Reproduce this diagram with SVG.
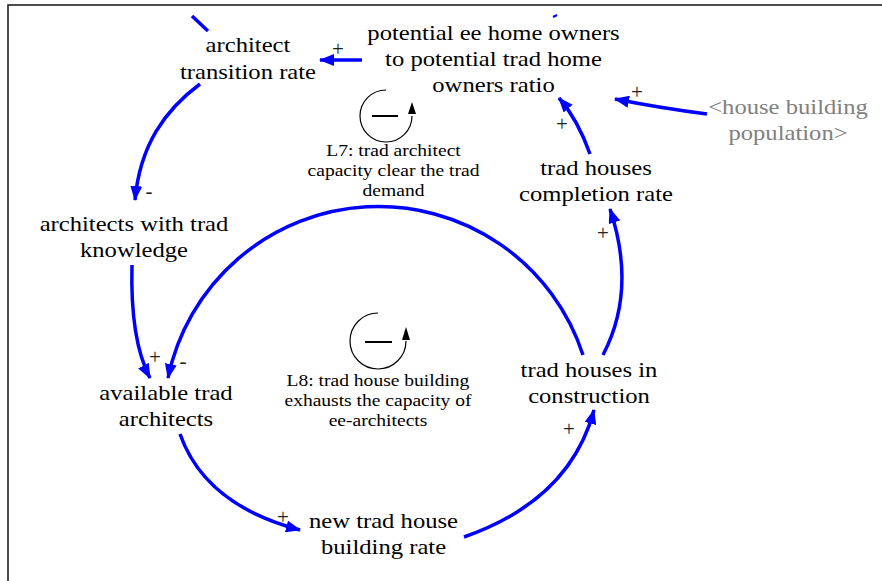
<svg xmlns="http://www.w3.org/2000/svg" width="882" height="581" viewBox="0 0 882 581">
<style>
.c{fill:none;stroke:#0000FF;stroke-width:3.5;marker-end:url(#ah)}
.stub{fill:none;stroke:#0000FF;stroke-width:3.5}
.loop{fill:none;stroke:#000;stroke-width:1.2}
</style>
<defs>
<marker id="ah" viewBox="0 0 15 12" refX="14" refY="6" markerWidth="15" markerHeight="12" markerUnits="userSpaceOnUse" orient="auto">
<path d="M0,0 L15,6 L0,12 z" fill="#0000FF"/>
</marker>
</defs>
<rect x="8" y="5" width="900" height="600" fill="#fff" stroke="#222" stroke-width="1.6"/>

<g id="connectors">
<line class="stub" x1="192" y1="16" x2="208" y2="31"/>
<line x1="553" y1="17" x2="557" y2="15" stroke="#0000FF" stroke-width="2"/>
<path class="c" d="M362,60 L320,60"/>
<path class="c" d="M200,84 C165,110 140,145 135,200"/>
<path class="c" d="M132,265 Q130,340 150,378"/>
<path class="c" d="M583,355 A215,215 0 0 0 168,378"/>
<path class="c" d="M180,434 Q205,505 300,530"/>
<path class="c" d="M464,537 Q570,500 594,410"/>
<path class="c" d="M603,355 Q637,290 610,209"/>
<path class="c" d="M590,154 Q578,120 559,98"/>
<path class="c" d="M707,114 Q660,108 615,99"/>
<g font-family="Liberation Serif" font-size="21" fill="#222" text-anchor="middle">
<text style="font-family:'Liberation Serif',serif" x="338" y="56">+</text>
<text style="font-family:'Liberation Serif',serif" x="149" y="198">-</text>
<text style="font-family:'Liberation Serif',serif" x="562" y="131">+</text>
<text style="font-family:'Liberation Serif',serif" x="637" y="99">+</text>
<text style="font-family:'Liberation Serif',serif" x="603" y="240">+</text>
<text style="font-family:'Liberation Serif',serif" x="155" y="364">+</text>
<text style="font-family:'Liberation Serif',serif" x="183" y="368">-</text>
<text style="font-family:'Liberation Serif',serif" x="283" y="524">+</text>
<text style="font-family:'Liberation Serif',serif" x="569" y="436">+</text>
</g>
</g>

<g font-family="Liberation Serif" font-size="22" fill="#000" text-anchor="middle">
<g id="architect_transition_rate" transform="translate(248 0) scale(1.12 1)">
<text style="font-family:'Liberation Serif',serif" x="0" y="52">architect</text>
<text style="font-family:'Liberation Serif',serif" x="0" y="79">transition rate</text>
</g>
<g id="ratio" transform="translate(493.5 0) scale(1.12 1)">
<text style="font-family:'Liberation Serif',serif" x="0" y="40">potential ee home owners</text>
<text style="font-family:'Liberation Serif',serif" x="0" y="66">to potential trad home</text>
<text style="font-family:'Liberation Serif',serif" x="0" y="92">owners ratio</text>
</g>
<g id="house_building_population" transform="translate(788 0) scale(1.12 1)" fill="#808080">
<text style="font-family:'Liberation Serif',serif" x="0" y="114">&lt;house building</text>
<text style="font-family:'Liberation Serif',serif" x="0" y="140">population&gt;</text>
</g>
<g id="trad_houses_completion_rate" transform="translate(596 0) scale(1.12 1)">
<text style="font-family:'Liberation Serif',serif" x="0" y="175">trad houses</text>
<text style="font-family:'Liberation Serif',serif" x="0" y="201">completion rate</text>
</g>
<g id="architects_with_trad_knowledge" transform="translate(134 0) scale(1.12 1)">
<text style="font-family:'Liberation Serif',serif" x="0" y="231">architects with trad</text>
<text style="font-family:'Liberation Serif',serif" x="0" y="257">knowledge</text>
</g>
<g id="available_trad_architects" transform="translate(166 0) scale(1.12 1)">
<text style="font-family:'Liberation Serif',serif" x="0" y="400">available trad</text>
<text style="font-family:'Liberation Serif',serif" x="0" y="426">architects</text>
</g>
<g id="trad_houses_in_construction" transform="translate(589 0) scale(1.12 1)">
<text style="font-family:'Liberation Serif',serif" x="0" y="377">trad houses in</text>
<text style="font-family:'Liberation Serif',serif" x="0" y="403">construction</text>
</g>
<g id="new_trad_house_building_rate" transform="translate(383.5 0) scale(1.12 1)">
<text style="font-family:'Liberation Serif',serif" x="0" y="528">new trad house</text>
<text style="font-family:'Liberation Serif',serif" x="0" y="554">building rate</text>
</g>
</g>

<g id="loop_L7">
<path class="loop" d="M386,90 A26,26 0 1 0 412,116"/>
<path d="M412,102 L408,114 L416,114 z" fill="#000"/>
<line x1="372" y1="116" x2="398" y2="116" stroke="#000" stroke-width="2"/>
<g transform="translate(393.5 0) scale(1.15 1)" font-family="Liberation Serif" font-size="17" fill="#000" text-anchor="middle">
<text style="font-family:'Liberation Serif',serif" x="0" y="156">L7: trad architect</text>
<text style="font-family:'Liberation Serif',serif" x="0" y="176">capacity clear the trad</text>
<text style="font-family:'Liberation Serif',serif" x="0" y="196">demand</text>
</g>
</g>
<g id="loop_L8">
<path class="loop" d="M378,313 A28,28 0 1 0 406,341"/>
<path d="M406,327 L402,340 L410,340 z" fill="#000"/>
<line x1="365" y1="342" x2="392" y2="342" stroke="#000" stroke-width="2"/>
<g transform="translate(378 0) scale(1.15 1)" font-family="Liberation Serif" font-size="17" fill="#000" text-anchor="middle">
<text style="font-family:'Liberation Serif',serif" x="0" y="386">L8: trad house building</text>
<text style="font-family:'Liberation Serif',serif" x="0" y="406">exhausts the capacity of</text>
<text style="font-family:'Liberation Serif',serif" x="0" y="426">ee-architects</text>
</g>
</g>
</svg>
